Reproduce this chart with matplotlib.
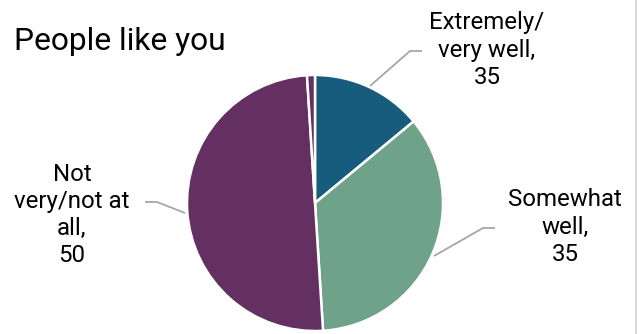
import matplotlib.pyplot as plt
from matplotlib.lines import Line2D

plt.rcParams['font.family'] = ['Roboto', 'DejaVu Sans']

# Datos del gráfico
titulo = 'People like you'
categorias = ['Extremely/\nvery well,\n35', 'Somewhat\nwell,\n35', 'Not\nvery/not at\nall,\n50', '']
valores = [14, 35, 50, 1]
colores = ['#175C7C', '#6FA389', '#643061', '#643061']

W, H = 639, 334
CX, CY, R = 315, 203, 128  # centro y radio del pie en píxeles


def px(x, y):
    # pasa píxeles (origen arriba-izquierda) a coordenadas del eje
    return (x - CX) / R, (CY - y) / R


fig = plt.figure(figsize=(W / 100, H / 100), dpi=100)
ax = fig.add_axes([0, 0, 1, 1])
ax.pie(valores, colors=colores, startangle=90, counterclock=False,
       wedgeprops=dict(edgecolor='white', linewidth=1.8))
x0, y0 = px(0, H)
x1, y1 = px(W, 0)
ax.set_xlim(x0, x1)
ax.set_ylim(y0, y1)
ax.set_aspect('auto')
ax.axis('off')

# Título
tx, ty = px(14, 41)
ax.text(tx, ty, titulo, fontsize=22.9, ha='left', va='center', color='black')

# Etiquetas con líneas guía
etiquetas = [
    (categorias[0], (487, 50), [(370, 86), (410, 51), (422, 51)]),
    (categorias[1], (565, 227), [(434, 256), (483, 228), (495, 228)]),
    (categorias[2], (72, 215), [(185, 213), (157, 202), (145, 202)]),
]
for texto, (lx, ly), linea in etiquetas:
    xs, ys = zip(*[px(a, b) for a, b in linea])
    ax.plot(xs, ys, color='#A6A6A6', linewidth=1.3, solid_capstyle='butt')
    x, y = px(lx, ly)
    ax.text(x, y, texto, fontsize=17.3, ha='center', va='center',
            linespacing=1.24, color='black')

# Borde derecho gris
fig.add_artist(Line2D([636 / W, 636 / W], [0, 1], color='#D9D9D9', linewidth=1.5,
                      transform=fig.transFigure))

fig.savefig('out.png', dpi=100)
